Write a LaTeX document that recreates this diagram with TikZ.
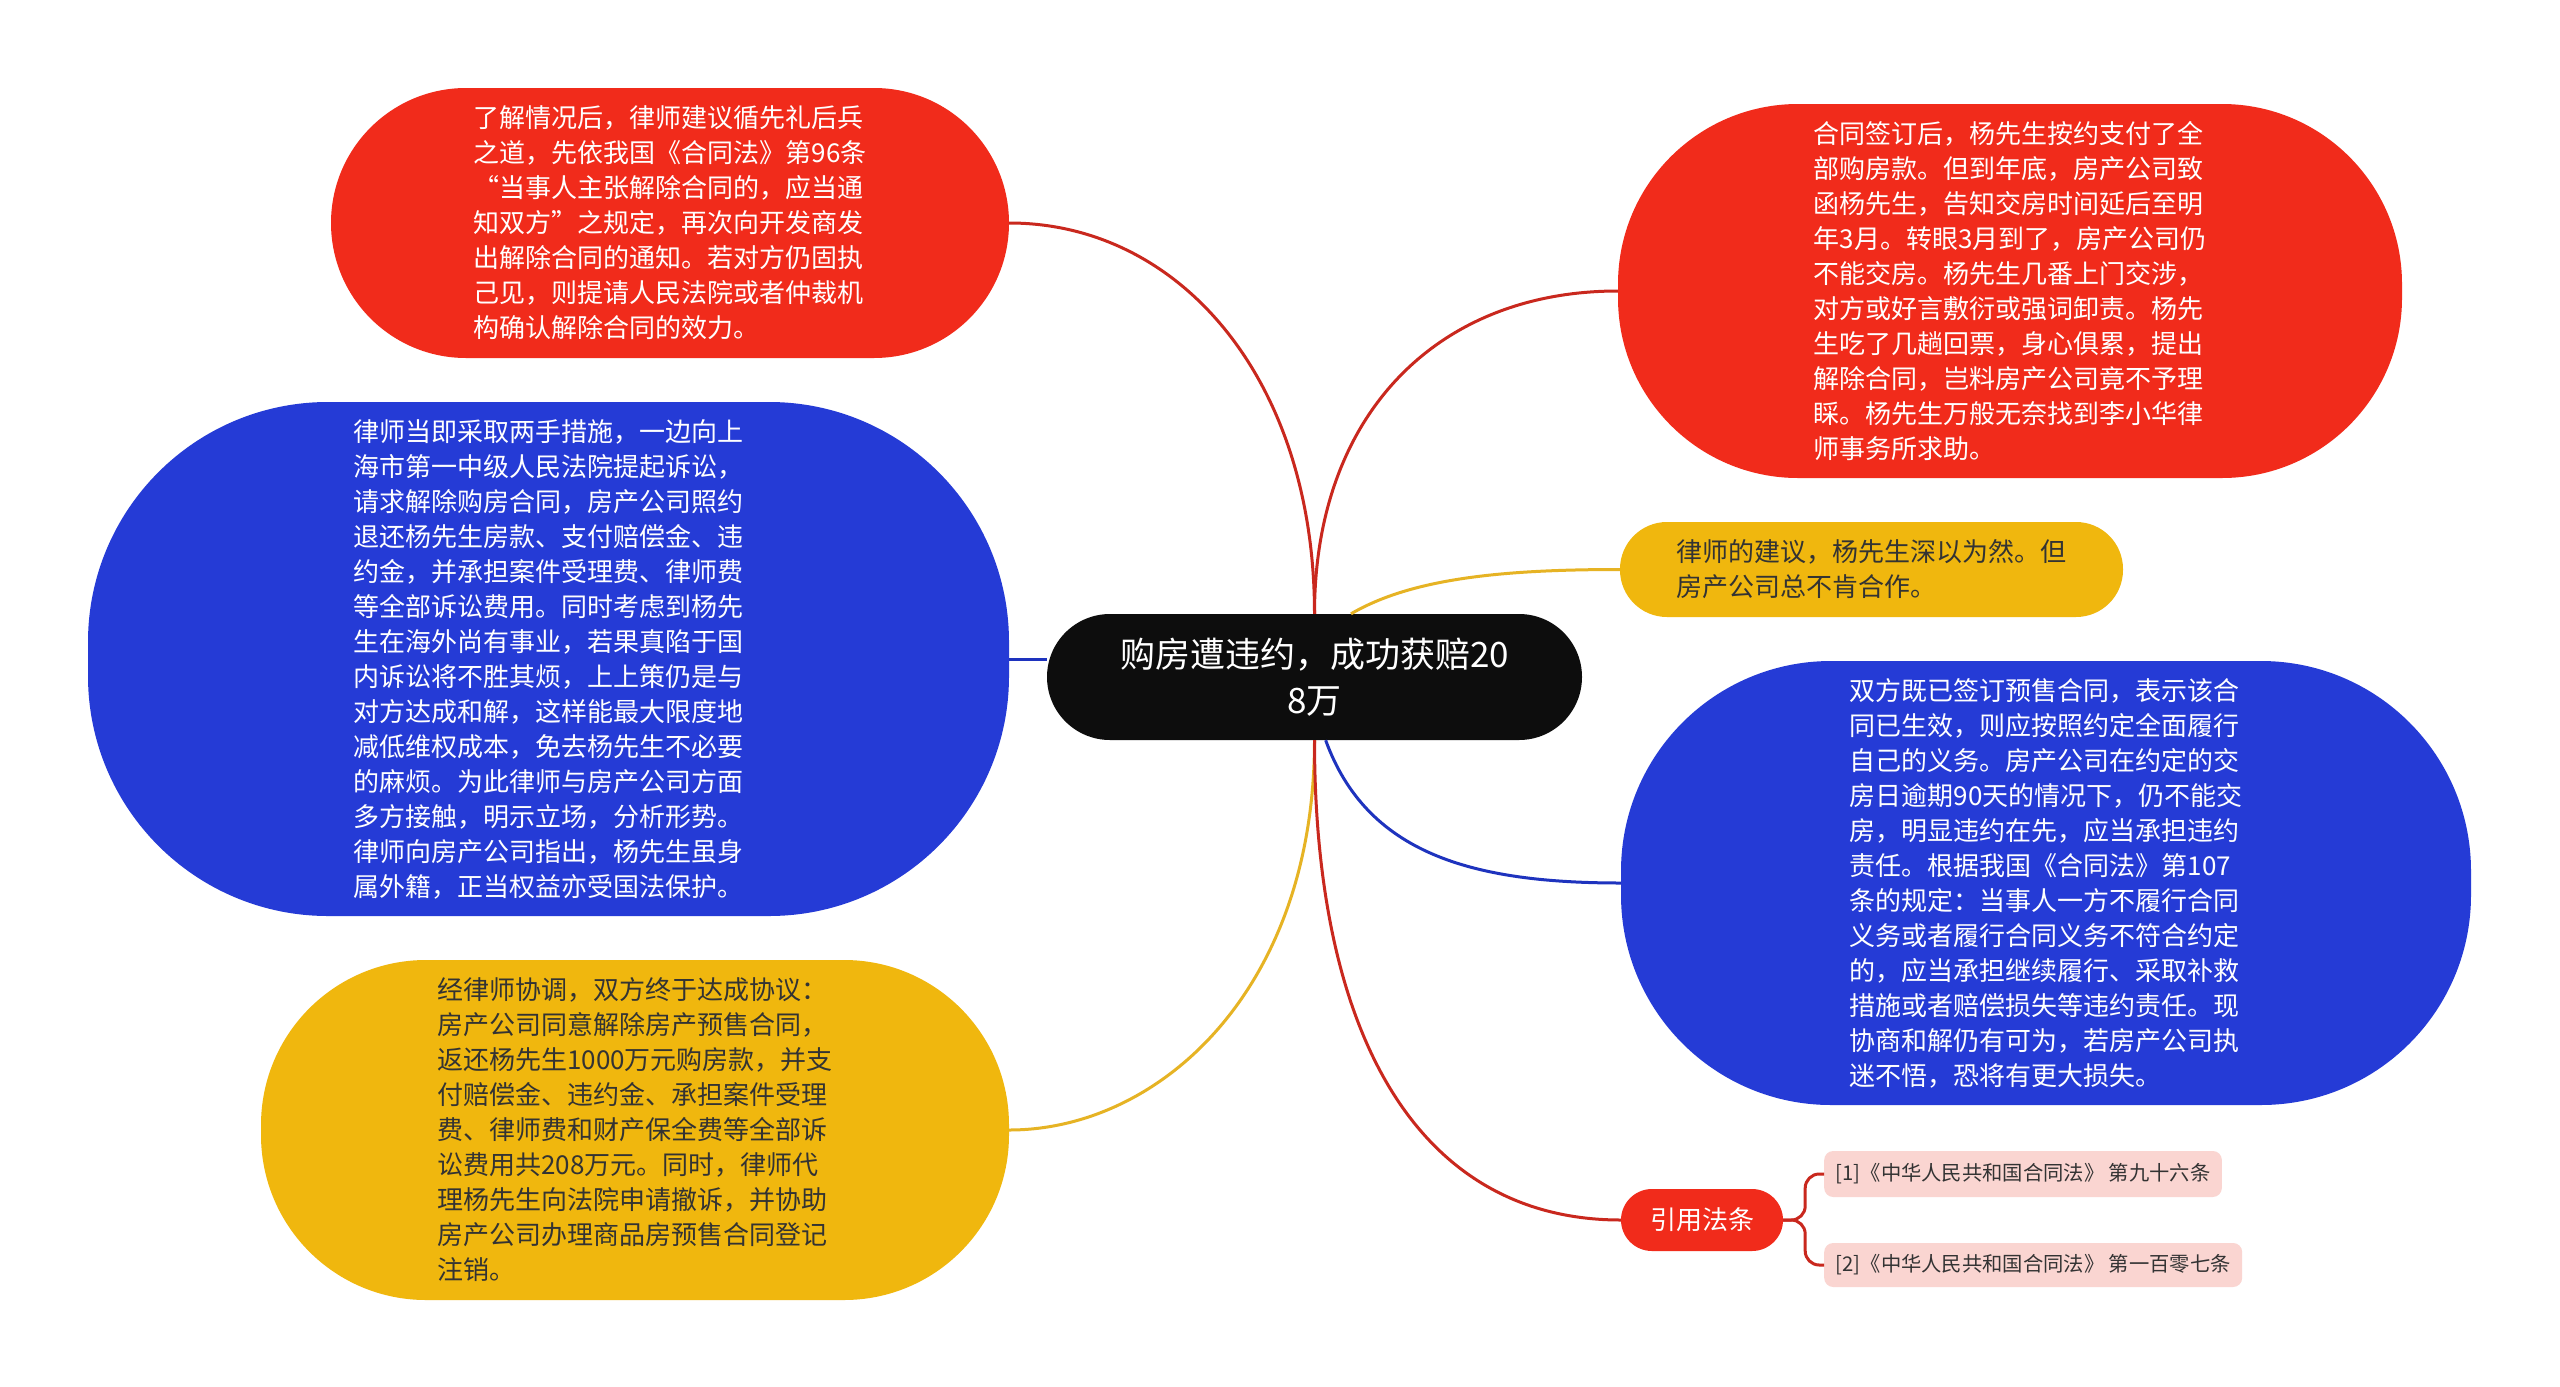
\documentclass[tikz,border=0pt]{standalone}
\usepackage{fontspec}
\setmainfont{Noto Sans CJK SC}
\definecolor{redfill}{HTML}{F12B1B}
\definecolor{redline}{HTML}{C9281E}
\definecolor{bluefill}{HTML}{253BD6}
\definecolor{blueline}{HTML}{1E33BE}
\definecolor{yellowfill}{HTML}{F0B70E}
\definecolor{yellowline}{HTML}{E6B324}
\definecolor{reffill}{HTML}{FAD5D1}
\definecolor{darktext}{HTML}{333333}
\begin{document}
\begin{tikzpicture}[x=1pt, y=-1pt,
  every node/.style={inner sep=0pt, align=left},
  topic/.style={font=\fontsize{26}{35}\selectfont},
  light/.style={topic, text=white},
  dark/.style={topic, text=darktext},
  lawref/.style={fill=reffill, text=darktext, anchor=west, rounded corners=9pt, inner xsep=11.5pt,
                 font=\fontsize{20.3}{24}\selectfont},
  link/.style={line width=3pt}]
  \fill[white] (0,0) rectangle (2560,1387);
  % central topic
  \node[fill=black!95, text=white, align=center, rounded corners=63pt,
        minimum width=535pt, minimum height=126pt,
        font=\fontsize{35}{46}\selectfont] (ctr) at (1314.5,677)
        {购房遭违约，成功获赔20\\8万};
  % left side
  \node[light, fill=redfill, rounded corners=135pt, minimum width=678pt, minimum height=270pt] (tl) at (670,223)
        {了解情况后，律师建议循先礼后兵\\之道，先依我国《合同法》第96条\\“当事人主张解除合同的，应当通\\知双方”之规定，再次向开发商发\\出解除合同的通知。若对方仍固执\\己见，则提请人民法院或者仲裁机\\构确认解除合同的效力。};
  \node[light, fill=bluefill, rounded corners=240pt, minimum width=921pt, minimum height=514pt] (lb) at (548.5,659)
        {律师当即采取两手措施，一边向上\\海市第一中级人民法院提起诉讼，\\请求解除购房合同，房产公司照约\\退还杨先生房款、支付赔偿金、违\\约金，并承担案件受理费、律师费\\等全部诉讼费用。同时考虑到杨先\\生在海外尚有事业，若果真陷于国\\内诉讼将不胜其烦，上上策仍是与\\对方达成和解，这样能最大限度地\\减低维权成本，免去杨先生不必要\\的麻烦。为此律师与房产公司方面\\多方接触，明示立场，分析形势。\\律师向房产公司指出，杨先生虽身\\属外籍，正当权益亦受国法保护。};
  \node[dark, fill=yellowfill, rounded corners=165pt, minimum width=748pt, minimum height=340pt] (ly) at (635,1130)
        {经律师协调，双方终于达成协议：\\房产公司同意解除房产预售合同，\\返还杨先生1000万元购房款，并支\\付赔偿金、违约金、承担案件受理\\费、律师费和财产保全费等全部诉\\讼费用共208万元。同时，律师代\\理杨先生向法院申请撤诉，并协助\\房产公司办理商品房预售合同登记\\注销。};
  % right side
  \node[light, fill=redfill, rounded corners=180pt, minimum width=784pt, minimum height=374pt] (tr) at (2010,291)
        {合同签订后，杨先生按约支付了全\\部购房款。但到年底，房产公司致\\函杨先生，告知交房时间延后至明\\年3月。转眼3月到了，房产公司仍\\不能交房。杨先生几番上门交涉，\\对方或好言敷衍或强词卸责。杨先\\生吃了几趟回票，身心俱累，提出\\解除合同，岂料房产公司竟不予理\\睬。杨先生万般无奈找到李小华律\\师事务所求助。};
  \node[dark, fill=yellowfill, rounded corners=47pt, minimum width=503pt, minimum height=95pt] (ry) at (1871.5,569.5)
        {律师的建议，杨先生深以为然。但\\房产公司总不肯合作。};
  \node[light, fill=bluefill, rounded corners=210pt, minimum width=850pt, minimum height=444pt] (rb) at (2046,883)
        {双方既已签订预售合同，表示该合\\同已生效，则应按照约定全面履行\\自己的义务。房产公司在约定的交\\房日逾期90天的情况下，仍不能交\\房，明显违约在先，应当承担违约\\责任。根据我国《合同法》第107\\条的规定：当事人一方不履行合同\\义务或者履行合同义务不符合约定\\的，应当承担继续履行、采取补救\\措施或者赔偿损失等违约责任。现\\协商和解仍有可为，若房产公司执\\迷不悟，恐将有更大损失。};
  \node[light, fill=redfill, align=center, rounded corners=31pt, minimum width=162pt, minimum height=62pt] (cite) at (1702,1220) {引用法条};
  \node[lawref, minimum height=46pt] (ref1) at (1824,1174) {[1]《中华人民共和国合同法》 第九十六条};
  \node[lawref, minimum height=44pt] (ref2) at (1824,1265) {[2]《中华人民共和国合同法》 第一百零七条};
  % connectors
  \draw[link, redline] (ctr.north) .. controls +(0,-234) and +(171,0) .. (tl.east);
  \draw[link, redline] (ctr.north) .. controls +(0,-200) and +(-180,0) .. (tr.west);
  \draw[link, yellowline] (ctr.60) .. controls +(60,-35) and +(-120,0) .. (ry.west);
  \draw[link, blueline] (ctr.west |- lb.east) -- (lb.east);
  \draw[link, blueline] (ctr.-80) .. controls +(41,113) and +(-150,0) .. (rb.west);
  \draw[link, yellowline] (ctr.south) .. controls +(0,250) and +(150,0) .. (ly.east);
  \draw[link, redline] (ctr.south) .. controls +(0,300) and +(-200,0) .. (cite.west);
  \draw[link, redline, rounded corners=14pt] (cite.east) -- ++(22,0) |- (ref1.west);
  \draw[link, redline, rounded corners=14pt] (cite.east) -- ++(22,0) |- (ref2.west);
\end{tikzpicture}
\end{document}
